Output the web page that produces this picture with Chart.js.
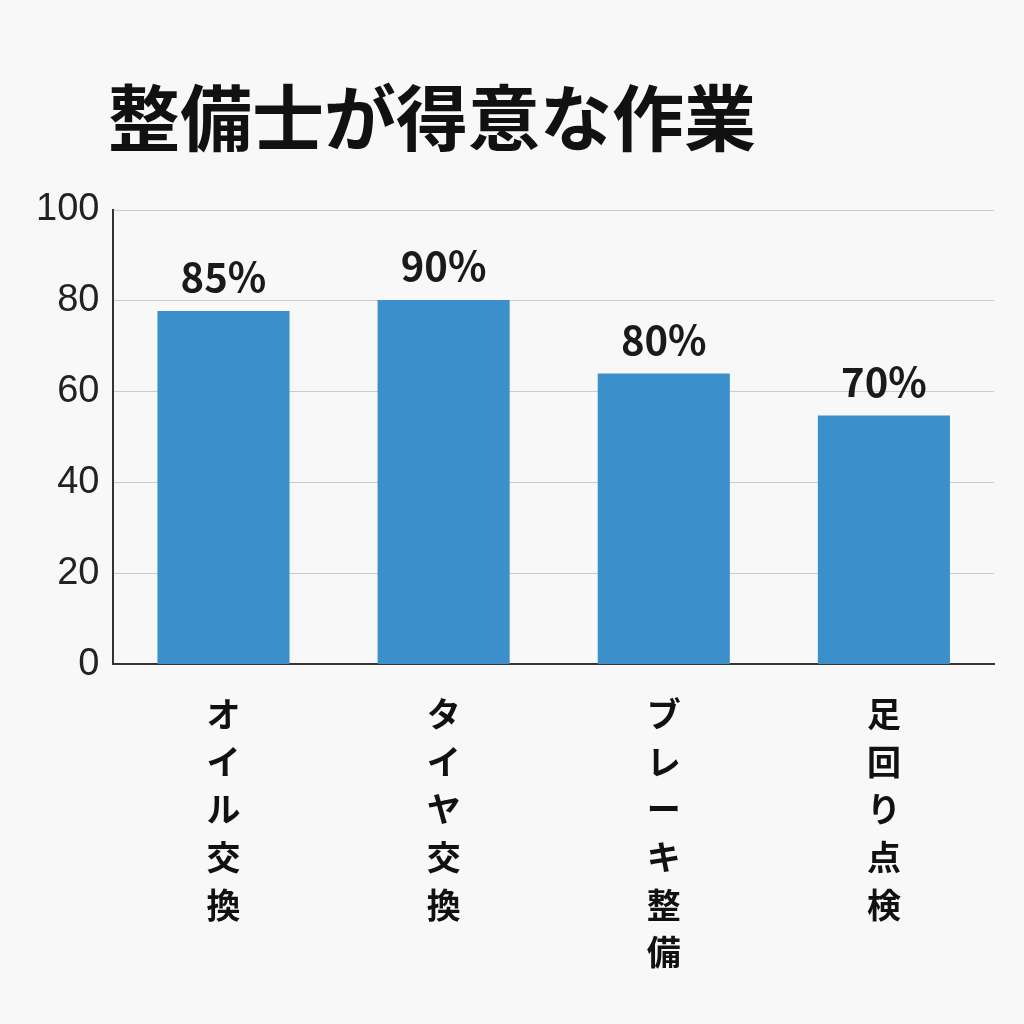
<!DOCTYPE html>
<html><head><meta charset="utf-8">
<script src="https://cdn.jsdelivr.net/npm/chart.js@4/dist/chart.umd.min.js"></script>
<style>html,body{margin:0;padding:0;background:#f8f8f8}#w{width:1024px;height:1024px}</style>
</head><body><div id="w"><canvas id="c"></canvas></div>
<script>
const categories = ["オイル交換","タイヤ交換","ブレーキ整備","足回り点検"];
const barValues = [77.8, 80.2, 64, 54.8];
const valueLabels = ["85%","90%","80%","70%"];
const yTicks = [0,20,40,60,80,100];
const chartTitle = '整備士が得意な作業';
const F = "'Noto Sans CJK JP','Noto Sans',sans-serif";
const labelPlugin = {
  id:'vl',
  beforeDraw(chart){
    const ctx = chart.ctx;
    ctx.save();
    ctx.fillStyle='#111'; ctx.textAlign='left'; ctx.textBaseline='middle';
    ctx.font = "bold 72px " + F;
    ctx.fillText(chartTitle, 108, 118);
    ctx.restore();
  },
  afterDatasetsDraw(chart){
    const ctx = chart.ctx, meta = chart.getDatasetMeta(0);
    ctx.save();
    ctx.fillStyle = '#1a1a1a'; ctx.textAlign='center'; ctx.textBaseline='bottom';
    ctx.font = "bold 40px " + F;
    meta.data.forEach((b,i)=>{ ctx.fillText(valueLabels[i], b.x, b.y-14); });
    ctx.restore();
  }
};
new Chart(document.getElementById('c'), {
  type:'bar',
  data:{ labels: categories.map(s=>s.split('')),
    datasets:[{ data: barValues, backgroundColor:'#3b8fca', borderWidth:0, barPercentage:0.6, categoryPercentage:1 }]},
  options:{
    responsive:true, maintainAspectRatio:false, animation:false,
    layout:{padding:{left:22,right:30,top:210,bottom:22}},
    plugins:{ legend:{display:false}, tooltip:{enabled:false}, title:{display:false}},
    scales:{
      y:{ min:0, max:100, afterBuildTicks(a){a.ticks=yTicks.map(v=>({value:v}));},
        ticks:{color:'#222', font:{family:"'Liberation Sans',sans-serif", size:38}, padding:14},
        grid:{color:'#cccccc', drawTicks:false}, border:{color:'#333', width:2}},
      x:{ ticks:{color:'#111', font:{family:F, size:34, weight:'bold', lineHeight:1.4}, padding:26, maxRotation:0, autoSkip:false},
        grid:{display:false, drawTicks:false}, border:{color:'#333', width:2}}
    }
  },
  plugins:[labelPlugin]
});
</script></body></html>
